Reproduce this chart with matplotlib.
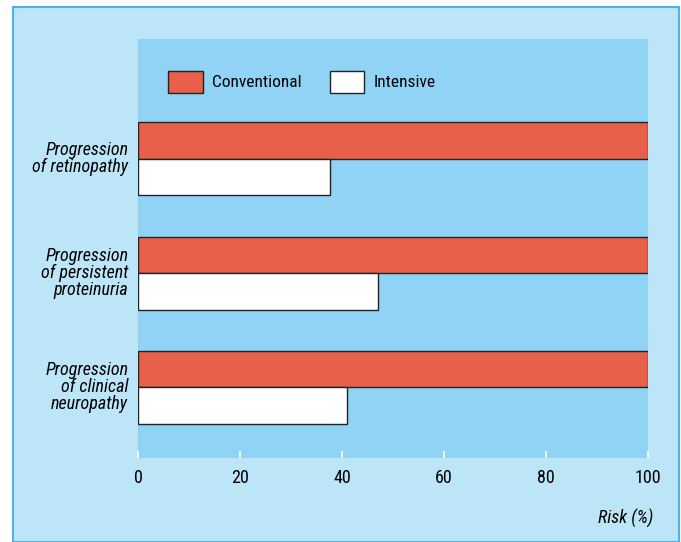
import matplotlib
matplotlib.use('Agg')
import matplotlib.pyplot as plt
from matplotlib.patches import Rectangle

categories = ['Progression\nof retinopathy',
              'Progression\nof persistent\nproteinuria',
              'Progression\nof clinical\nneuropathy']
conventional = [100, 100, 100]
intensive = [37.6, 47.1, 41.0]
xticks = [0, 20, 40, 60, 80, 100]

plt.rcParams['font.family'] = ['Liberation Sans Narrow', 'Roboto Condensed',
                               'DejaVu Sans Condensed', 'Liberation Sans']

W, H = 681, 542
fig = plt.figure(figsize=(W / 100, H / 100), dpi=100)
fig.patch.set_facecolor('white')

# outer light-blue panel with border
fig.patches.append(Rectangle((13 / W, 0), (679 - 13) / W, (H - 7) / H,
                             transform=fig.transFigure, facecolor='#bde5f8',
                             edgecolor='#4fb0ea', linewidth=1.5, zorder=-5))

ax = fig.add_axes([138 / W, (H - 458) / H, (648 - 138) / W, (458 - 39) / H])
ax.set_zorder(2)
ax.set_facecolor('#91d3f5')
for s in ax.spines.values():
    s.set_visible(False)

pos = list(range(len(categories)))
h = 0.32
red = '#e8604a'
ax.barh([p - h / 2 for p in pos], conventional, height=h, color=red,
        edgecolor='#222222', linewidth=1.0, label='Conventional')
ax.barh([p + h / 2 for p in pos], intensive, height=h, color='white',
        edgecolor='#222222', linewidth=1.0, label='Intensive')

ax.set_xlim(0, 100)
ax.set_ylim(2.62, -1.05)
ax.set_yticks(pos)
ax.set_yticklabels(categories, fontstyle='italic', fontsize=13,
                   ha='right', va='center', linespacing=0.94)
ax.tick_params(axis='y', length=0, pad=7)
ax.set_xticks(xticks)
ax.set_xticklabels([str(t) for t in xticks], fontsize=13)
ax.tick_params(axis='x', direction='in', length=5, width=1.2, color='white',
               pad=8)

ax.text(1.01, -0.145, 'Risk (%)', transform=ax.transAxes, ha='right',
        va='center', fontstyle='italic', fontsize=13)

leg = ax.legend(loc='upper left', bbox_to_anchor=(0.059, 0.924), ncol=2,
                frameon=False, fontsize=12.5, handlelength=2.0,
                handleheight=1.55, columnspacing=1.6, handletextpad=0.55,
                borderpad=0, borderaxespad=0)

fig.savefig('out.png', dpi=100)
